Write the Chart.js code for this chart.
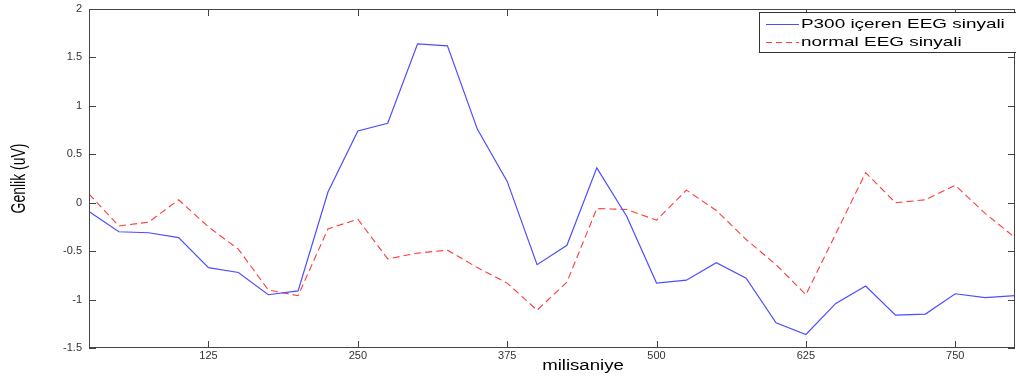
<!DOCTYPE html>
<html>
<head>
<meta charset="utf-8">
<script src="https://cdn.jsdelivr.net/npm/chart.js@4.4.1/dist/chart.umd.min.js"></script>
<style>
  html, body { margin: 0; padding: 0; background: #fff; }
  #wrap { width: 1016px; height: 376px; position: relative; }
</style>
</head>
<body>
<div id="wrap"><canvas id="eeg"></canvas></div>
<script>
// --- Data ---
const timeMs = [25, 50, 75, 100, 125, 150, 175, 200, 225, 250, 275, 300, 325, 350, 375, 400,
  425, 450, 475, 500, 525, 550, 575, 600, 625, 650, 675, 700, 725, 750, 775, 800];
const p300Values = [-0.09, -0.30, -0.31, -0.36, -0.67, -0.72, -0.95, -0.91, 0.11, 0.74, 0.82, 1.64,
  1.62, 0.76, 0.22, -0.64, -0.44, 0.36, -0.14, -0.83, -0.80, -0.62, -0.78, -1.24, -1.36, -1.04,
  -0.86, -1.16, -1.15, -0.94, -0.98, -0.96];
const normalValues = [0.09, -0.24, -0.20, 0.03, -0.25, -0.48, -0.90, -0.96, -0.27, -0.17, -0.58,
  -0.52, -0.49, -0.67, -0.83, -1.11, -0.82, -0.06, -0.07, -0.18, 0.13, -0.08, -0.38, -0.64, -0.95,
  -0.32, 0.31, 0.00, 0.03, 0.18, -0.11, -0.36];
const xTicks = [125, 250, 375, 500, 625, 750];
const yTicks = [-1.5, -1, -0.5, 0, 0.5, 1, 1.5, 2];
const seriesNames = ['P300 içeren EEG sinyali', 'normal EEG sinyali'];

const BLUE = '#4d4dff';
const RED = '#ff3c3c';
const FRAME = '#444';
const FONT = '"Liberation Sans", Arial, sans-serif';
const STRETCH = 1.4; // the source image is stretched horizontally

/** Draw text squeezed/stretched horizontally around its anchor */
function stretchedText(ctx, text, x, y, sx, align) {
  ctx.save();
  ctx.translate(x, y);
  ctx.scale(sx, 1);
  ctx.textAlign = align;
  ctx.fillText(text, 0, 0);
  ctx.restore();
}

// --- Matlab style frame, inward ticks, titles and legend ---
const matlabFrame = {
  id: 'matlabFrame',
  afterDraw(chart) {
    const { ctx, chartArea: a, scales } = chart;
    const tl = 7;
    ctx.save();
    ctx.strokeStyle = FRAME;
    ctx.lineWidth = 1;
    ctx.strokeRect(a.left + 0.5, a.top + 0.5, a.right - a.left - 1, a.bottom - a.top - 1);

    ctx.beginPath();
    xTicks.forEach((v) => {
      const px = Math.round(scales.x.getPixelForValue(v)) + 0.5;
      ctx.moveTo(px, a.bottom); ctx.lineTo(px, a.bottom - tl);
      ctx.moveTo(px, a.top); ctx.lineTo(px, a.top + tl);
    });
    yTicks.forEach((v) => {
      const py = Math.round(scales.y.getPixelForValue(v)) + 0.5;
      ctx.moveTo(a.left, py); ctx.lineTo(a.left + tl, py);
      ctx.moveTo(a.right, py); ctx.lineTo(a.right - tl, py);
    });
    ctx.stroke();

    // axis titles
    ctx.fillStyle = '#000';
    ctx.textBaseline = 'middle';
    ctx.font = '14px ' + FONT;
    stretchedText(ctx, 'milisaniye', (a.left + a.right) / 2 + 31, 366, 1.33, 'center');

    ctx.save();
    ctx.translate(20, (a.top + a.bottom) / 2);
    ctx.scale(STRETCH, 1);
    ctx.rotate(-Math.PI / 2);
    ctx.font = '14px ' + FONT;
    ctx.textAlign = 'center';
    ctx.fillText('Genlik (uV)', 0, 0);
    ctx.restore();

    // legend box
    const lx = 759, ly = 12, lw = 270, lh = 40;
    ctx.fillStyle = '#fff';
    ctx.fillRect(lx, ly, lw, lh);
    ctx.strokeStyle = '#333';
    ctx.strokeRect(lx + 0.5, ly + 0.5, lw, lh);

    const rows = [
      { name: seriesNames[0], color: BLUE, dash: [], y: 24 },
      { name: seriesNames[1], color: RED, dash: [6, 4], y: 42 },
    ];
    rows.forEach((r) => {
      ctx.strokeStyle = r.color;
      ctx.setLineDash(r.dash);
      ctx.beginPath();
      ctx.moveTo(766, r.y + 0.5);
      ctx.lineTo(799, r.y + 0.5);
      ctx.stroke();
      ctx.setLineDash([]);
      ctx.fillStyle = '#000';
      ctx.font = '13.5px ' + FONT;
      stretchedText(ctx, r.name, 801, r.y, STRETCH, 'left');
    });
    ctx.restore();
  },
};

new Chart(document.getElementById('eeg'), {
  type: 'line',
  data: {
    datasets: [
      {
        label: seriesNames[0],
        data: timeMs.map((t, i) => ({ x: t, y: p300Values[i] })),
        borderColor: BLUE,
        borderWidth: 1.2,
        pointRadius: 0,
        tension: 0,
        fill: false,
      },
      {
        label: seriesNames[1],
        data: timeMs.map((t, i) => ({ x: t, y: normalValues[i] })),
        borderColor: RED,
        borderWidth: 1.1,
        borderDash: [7, 4],
        pointRadius: 0,
        tension: 0,
        fill: false,
      },
    ],
  },
  options: {
    responsive: true,
    maintainAspectRatio: false,
    animation: false,
    layout: { padding: { top: 9, right: 1, left: 0, bottom: 0 } },
    plugins: { legend: { display: false }, tooltip: { enabled: false } },
    scales: {
      x: {
        type: 'linear',
        min: 25,
        max: 800,
        afterBuildTicks: (scale) => { scale.ticks = xTicks.map((v) => ({ value: v })); },
        afterFit: (scale) => {
          scale.height = 28;
          scale.paddingLeft = 0;
          scale.paddingRight = 0;
        },
        grid: { display: false, drawTicks: false },
        border: { display: false },
        ticks: { color: '#333', font: { family: FONT, size: 11 }, padding: 1, maxRotation: 0 },
      },
      y: {
        min: -1.5,
        max: 2,
        afterBuildTicks: (scale) => { scale.ticks = yTicks.map((v) => ({ value: v })); },
        afterFit: (scale) => {
          scale.width = 89;
          scale.paddingTop = 0;
          scale.paddingBottom = 0;
        },
        grid: { display: false, drawTicks: false },
        border: { display: false },
        ticks: {
          color: '#333',
          font: { family: FONT, size: 11, lineHeight: 1 },
          padding: 7,
          callback: (v) => String(v),
        },
      },
    },
  },
  plugins: [matlabFrame],
});
</script>
</body>
</html>
